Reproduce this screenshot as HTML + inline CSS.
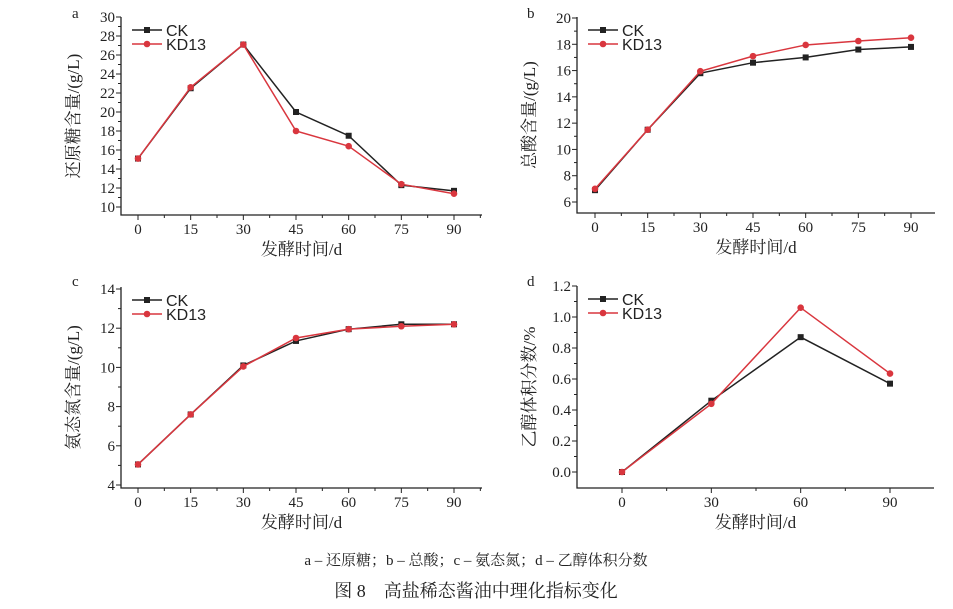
<!DOCTYPE html>
<html><head><meta charset="utf-8"><style>
body{margin:0;background:#fff;width:953px;height:609px;overflow:hidden}
svg{display:block}
text{font-family:"Liberation Serif","Noto Serif CJK SC",serif;fill:#222}
</style></head><body>
<svg id="s" width="953" height="609" xmlns="http://www.w3.org/2000/svg"></svg>
<script>
const s=document.getElementById('s');let h='';
function P(o){
 const {L,R,T,B,x0,x1,xv,yTop,yBot,yv0,yv1,ystep,dec,ck,kd,xs,yl,let_,lx,ly,minorx}=o;
 const X=v=>x0+(v-xv[0])/(xv[xv.length-1]-xv[0])*(x1-x0);
 const Y=v=>yBot+(v-yv0)/(yv1-yv0)*(yTop-yBot);
 h+=`<path d="M${L} ${T}V${B}H${R}" fill="none" stroke="#222" stroke-width="1.3"/>`;
 for(let v=yv0;v<=yv1+1e-9;v+=ystep){const y=Y(v);h+=`<line x1="${L}" x2="${L-5}" y1="${y}" y2="${y}" stroke="#222"/><text x="${L-6}" y="${y+5}" font-size="15" text-anchor="end">${v.toFixed(dec)}</text>`;
  const ym=Y(v+ystep/2);if(v+ystep/2<yv1&&ym>T)h+=`<line x1="${L}" x2="${L-3}" y1="${ym}" y2="${ym}" stroke="#222"/>`;}
 xs.forEach(v=>{const x=X(v);h+=`<line x1="${x}" x2="${x}" y1="${B}" y2="${B+5}" stroke="#222"/><text x="${x}" y="${B+19}" font-size="15" text-anchor="middle">${v}</text>`;});
 minorx.forEach(v=>{const x=X(v);if(x<R)h+=`<line x1="${x}" x2="${x}" y1="${B}" y2="${B+3}" stroke="#222"/>`;});
 h+=`<text x="${(L+R)/2}" y="${B+40}" font-size="17" text-anchor="middle">发酵时间/d</text>`;
 h+=`<text transform="translate(${L-42},${(T+B)/2}) rotate(-90)" font-size="17" text-anchor="middle">${yl}</text>`;
 h+=`<text x="${lx}" y="${ly}" font-size="15">${let_}</text>`;
 const line=(d,c,sq)=>{h+=`<polyline points="${d.map((v,i)=>X(xs[i])+','+Y(v)).join(' ')}" fill="none" stroke="${c}" stroke-width="1.5"/>`;
  d.forEach((v,i)=>{const x=X(xs[i]),y=Y(v);h+=sq?`<rect x="${x-3}" y="${y-3}" width="6" height="6" fill="${c}"/>`:`<circle cx="${x}" cy="${y}" r="3.3" fill="${c}"/>`;});};
 line(ck,'#222',1);line(kd,'#d9363e',0);
 const lgx=L+11,ly1=T+13,ly2=T+27;
 h+=`<line x1="${lgx}" x2="${lgx+30}" y1="${ly1}" y2="${ly1}" stroke="#222" stroke-width="1.5"/><rect x="${lgx+12}" y="${ly1-3}" width="6" height="6" fill="#222"/><text x="${lgx+34}" y="${ly1+6}" font-size="16" style="font-family:'Liberation Sans',sans-serif">CK</text>`;
 h+=`<line x1="${lgx}" x2="${lgx+30}" y1="${ly2}" y2="${ly2}" stroke="#d9363e" stroke-width="1.5"/><circle cx="${lgx+15}" cy="${ly2}" r="3.3" fill="#d9363e"/><text x="${lgx+34}" y="${ly2+6}" font-size="16" style="font-family:'Liberation Sans',sans-serif">KD13</text>`;
}
const x7=[0,15,30,45,60,75,90],m7=[7.5,22.5,37.5,52.5,67.5,82.5,97.5];
P({L:121,R:482,T:17,B:215,x0:138,x1:454,xv:x7,xs:x7,minorx:m7,yTop:17,yBot:207,yv0:10,yv1:30,ystep:2,dec:0,
 ck:[15.1,22.5,27.1,20,17.5,12.3,11.7],kd:[15.1,22.6,27.1,18,16.4,12.4,11.4],yl:'还原糖含量/(g/L)',let_:'a',lx:72,ly:18});
P({L:577,R:935,T:17,B:213,x0:595,x1:911,xv:x7,xs:x7,minorx:m7,yTop:18,yBot:202,yv0:6,yv1:20,ystep:2,dec:0,
 ck:[6.9,11.5,15.8,16.6,17.0,17.6,17.8],kd:[7.0,11.5,15.95,17.1,17.95,18.25,18.5],yl:'总酸含量/(g/L)',let_:'b',lx:527,ly:18});
P({L:121,R:482,T:287,B:488,x0:138,x1:454,xv:x7,xs:x7,minorx:m7,yTop:289,yBot:485,yv0:4,yv1:14,ystep:2,dec:0,
 ck:[5.05,7.6,10.1,11.35,11.95,12.2,12.2],kd:[5.05,7.6,10.05,11.5,11.95,12.1,12.2],yl:'氨态氮含量/(g/L)',let_:'c',lx:72,ly:286});
P({L:577,R:934,T:286,B:488,x0:622,x1:890,xv:[0,30,60,90],xs:[0,30,60,90],minorx:[15,45,75,105],yTop:286,yBot:472,yv0:0,yv1:1.2,ystep:0.2,dec:1,
 ck:[0,0.46,0.87,0.57],kd:[0,0.44,1.06,0.635],yl:'乙醇体积分数/%',let_:'d',lx:527,ly:286});
h+=`<text x="476" y="565" font-size="15" text-anchor="middle">a – 还原糖；b – 总酸；c – 氨态氮；d – 乙醇体积分数</text>`;
h+=`<text x="476" y="597" font-size="18" text-anchor="middle">图 8　高盐稀态酱油中理化指标变化</text>`;
s.innerHTML=h;
</script>
</body></html>
